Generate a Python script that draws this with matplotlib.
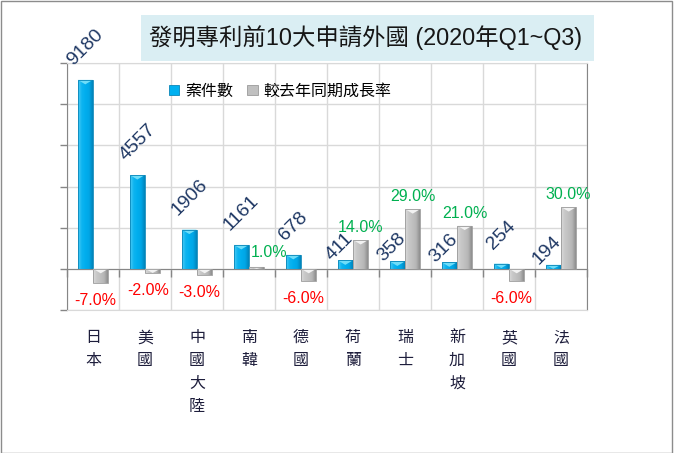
import numpy as np
import matplotlib
matplotlib.use("Agg")
import matplotlib.pyplot as plt
from matplotlib.patches import Rectangle, Patch, Polygon
from matplotlib.colors import LinearSegmentedColormap

# ---- data ----
countries = ['日本', '美國', '中國大陸', '南韓', '德國', '荷蘭', '瑞士', '新加坡', '英國', '法國']
cases = [9180, 4557, 1906, 1161, 678, 411, 358, 316, 254, 194]
growth = [-7.0, -2.0, -3.0, 1.0, -6.0, 14.0, 29.0, 21.0, -6.0, 30.0]
title = '發明專利前10大申請外國 (2020年Q1~Q3)'
series_names = ['案件數', '較去年同期成長率']

CJK = ['Noto Sans CJK TC', 'DejaVu Sans']
LAT = ['Liberation Sans', 'Noto Sans CJK TC', 'DejaVu Sans']

W, H, DPI = 676, 453, 100
fig = plt.figure(figsize=(W / DPI, H / DPI), dpi=DPI)
fig.patch.set_facecolor('white')

L, R, T, B = 67, 587, 63, 310
ax = fig.add_axes([L / W, 1 - B / H, (R - L) / W, (B - T) / H])
ax2 = ax.twinx()

grid_c = '#D9D9D9'
axis_c = '#868686'

x = np.arange(len(countries))
bw = 0.288
off = 0.148

bars1 = ax.bar(x - off, cases, bw, color='#00B0F0', edgecolor='none', zorder=2)
bars2 = ax2.bar(x + off, growth, bw, color='#C0C0C0', edgecolor='none', zorder=2)

ax.set_xlim(-0.5, len(countries) - 0.5)
ax.set_ylim(-2000, 10000)
ax2.set_ylim(-20, 100)

# gradients on bars
blue_cmap = LinearSegmentedColormap.from_list('b', ['#4CCBF5', '#0DB4F0', '#00AEEE', '#00A6E6', '#0084BA'])
gray_cmap = LinearSegmentedColormap.from_list('g', ['#DADADA', '#C8C8C8', '#C0C0C0', '#B6B6B6', '#8E8E8E'])
grad = np.linspace(0, 1, 64).reshape(1, -1)
ax_h_px = (B - T)


def decorate(a, bars, cmap, cap_c, edge_c):
    y0, y1 = a.get_ylim()
    d = 4.5 * (y1 - y0) / ax_h_px
    for p in bars:
        bx, by = p.get_x(), p.get_y()
        bwid, bh = p.get_width(), p.get_height()
        lo, hi = min(by, by + bh), max(by, by + bh)
        im = a.imshow(grad, extent=(bx, bx + bwid, lo, hi), aspect='auto',
                      cmap=cmap, origin='lower', zorder=2.1, interpolation='bilinear')
        im.set_clip_path(p)
        a.add_patch(Rectangle((bx, lo), bwid, hi - lo, facecolor='none',
                              edgecolor=edge_c, lw=0.6, zorder=2.3))
        dd = min(d, (hi - lo))
        a.add_patch(Polygon([(bx, hi), (bx + bwid, hi), (bx + bwid * 0.5, hi - dd)],
                            closed=True, facecolor=cap_c, edgecolor='none', zorder=2.2))


decorate(ax, bars1, blue_cmap, '#6FDDF8', '#0A86B8')
decorate(ax2, bars2, gray_cmap, '#F2F2F2', '#9A9A9A')

ax.set_xlim(-0.5, len(countries) - 0.5)
ax.set_ylim(-2000, 10000)
ax2.set_ylim(-20, 100)

# grid & axes styling
ax.set_yticks(np.arange(-2000, 10001, 2000))
ax.set_xticks(np.arange(-0.5, len(countries), 1.0))
ax.grid(True, color=grid_c, lw=1, zorder=0)
ax.set_axisbelow(True)
ax.tick_params(axis='y', direction='out', length=5, color=axis_c, labelleft=False, width=1)
ax.tick_params(axis='x', direction='out', length=6, color=axis_c, labelbottom=False, width=1)
ax.spines['bottom'].set_position(('data', 0))
ax.spines['bottom'].set_color(axis_c)
ax.spines['left'].set_color(axis_c)
ax.spines['top'].set_visible(False)
ax.spines['right'].set_visible(False)

ax2.set_yticks([])
ax2.spines['left'].set_visible(False)
ax2.spines['right'].set_color(axis_c)
ax2.spines['top'].set_color(grid_c)
ax2.spines['bottom'].set_color(grid_c)

# category labels (vertical stacked)
for i, name in enumerate(countries):
    ax.text(i, -0.078, '\n'.join(name), transform=ax.get_xaxis_transform(),
            ha='center', va='top', fontsize=11.5, family=CJK, color='#1E1E3C',
            linespacing=1.45)

# count labels
px = 72 / DPI
for i, (v, g) in enumerate(zip(cases, growth)):
    if g >= 10:
        ax2.annotate(f'{v}', xy=(i - off + bw / 2, v), xycoords=ax.transData,
                     xytext=(4 * px, -3 * px), textcoords='offset points',
                     rotation=45, ha='right', va='bottom', fontsize=14,
                     family=LAT, color='#1F3864', zorder=5)
    else:
        ax2.annotate(f'{v}', xy=(i - off, v), xycoords=ax.transData,
                     xytext=(0, 11 * px), textcoords='offset points',
                     rotation=45, ha='center', va='bottom', fontsize=14,
                     family=LAT, color='#1F3864', zorder=5)

# growth labels
for i, g in enumerate(growth):
    s = f'{g:.1f}%'
    if g < 0:
        ax2.annotate(s, xy=(i + off, g), xytext=(-5 * px, -10 * px),
                     textcoords='offset points', ha='center', va='top',
                     fontsize=11.5, family=LAT, color='#FF0000', zorder=5)
    elif g < 5:
        ax2.annotate(s, xy=(i + off - bw / 2, g), xytext=(2 * px, 7 * px),
                     textcoords='offset points', ha='left', va='bottom',
                     fontsize=11.5, family=LAT, color='#00B050', zorder=5)
    else:
        ax2.annotate(s, xy=(i + off, g), xytext=(0, 5 * px),
                     textcoords='offset points', ha='center', va='bottom',
                     fontsize=11.5, family=LAT, color='#00B050', zorder=5)

# legend
handles = [Patch(facecolor='#00B0F0', edgecolor='#0A86B8', lw=0.6),
           Patch(facecolor='#C0C0C0', edgecolor='#9A9A9A', lw=0.6)]
leg = ax2.legend(handles, series_names, loc='center left',
                 bbox_to_anchor=(169 / W, 1 - 91 / H), bbox_transform=fig.transFigure,
                 ncol=2, frameon=False, borderpad=0, borderaxespad=0,
                 handlelength=0.65, handleheight=0.65, handletextpad=0.35,
                 columnspacing=0.9, prop={'family': CJK, 'size': 11.5})

# title box
fig.add_artist(Rectangle((141 / W, 1 - 61 / H), 453 / W, 46 / H,
                         transform=fig.transFigure, facecolor='#DAEEF3',
                         edgecolor='none', zorder=0))
fig.text(365.5 / W, 1 - 38 / H, title, ha='center', va='center',
         fontsize=16.8, family=LAT, color='#161616')

# outer frame
fig.add_artist(Rectangle((0.5 / W, 0.5 / H), 671 / W, 452 / H,
                         transform=fig.transFigure, facecolor='none',
                         edgecolor='#8C8C8C', lw=1, zorder=10))

fig.savefig('out.png', dpi=DPI)
